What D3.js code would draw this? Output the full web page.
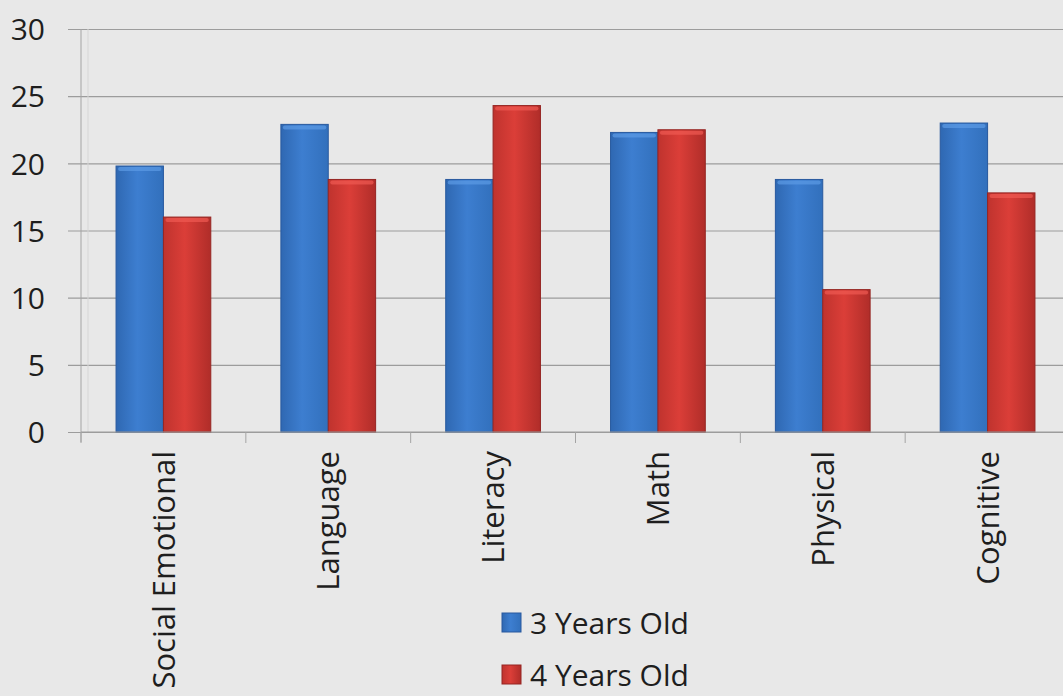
<!DOCTYPE html>
<html>
<head>
<meta charset="utf-8">
<script src="https://cdn.jsdelivr.net/npm/d3@7"></script>
<style>
  html, body { margin: 0; padding: 0; background: #e8e8e8; }
  svg { display: block; font-family: "Open Sans", sans-serif; }
</style>
</head>
<body>
<svg id="chart" width="1063" height="696"></svg>
<script>
var categories = ["Social Emotional", "Language", "Literacy", "Math", "Physical", "Cognitive"];
var seriesNames = ["3 Years Old", "4 Years Old"];
var threeYears = [19.8, 22.9, 18.8, 22.3, 18.8, 23.0];
var fourYears  = [16.0, 18.8, 24.3, 22.5, 10.6, 17.8];
var yTicks = [0, 5, 10, 15, 20, 25, 30];

var svg = d3.select("#chart");
var defs = svg.append("defs");

// bar shading, a bit like the office 3d-ish look
function makeGrad(id, c0, c1, c2) {
  var g = defs.append("linearGradient").attr("id", id)
    .attr("x1", "0").attr("x2", "1").attr("y1", "0").attr("y2", "0");
  g.append("stop").attr("offset", "0%").attr("stop-color", c0);
  g.append("stop").attr("offset", "45%").attr("stop-color", c1);
  g.append("stop").attr("offset", "100%").attr("stop-color", c2);
}
makeGrad("gBlue", "#2f68b2", "#3d7ed0", "#3270bc");
makeGrad("gRed", "#bf332e", "#db3e38", "#b02d29");

var colors = { "3 Years Old": "url(#gBlue)", "4 Years Old": "url(#gRed)" };
var capColors = { "3 Years Old": "#5c9be6", "4 Years Old": "#ef5a52" };
var edgeColors = { "3 Years Old": "#28599e", "4 Years Old": "#952522" };

var plotLeft = 81, plotRight = 1070, plotTop = 29, plotBottom = 432;

var x0 = d3.scaleBand().domain(categories).range([plotLeft, plotRight]).padding(0);
var x1 = d3.scaleBand().domain(seriesNames).range([0, x0.bandwidth()])
  .paddingInner(0).paddingOuter(0.74);
var y = d3.scaleLinear().domain([0, 30]).range([plotBottom, plotTop]);

// gridlines + y axis
var yAxis = svg.append("g")
  .attr("transform", "translate(" + plotLeft + ",0)")
  .call(d3.axisLeft(y).tickValues(yTicks).tickSize(-(plotRight - plotLeft)).tickPadding(36))
  .attr("font-family", null);
yAxis.select(".domain").remove();
yAxis.selectAll(".tick line").attr("stroke", "#9c9c9c").attr("stroke-width", 1.2)
  .attr("x1", -13);
yAxis.selectAll(".tick text").attr("fill", "#1e1e1e").style("font-size", "30px")
  .attr("dy", "0.36em");

// y axis line
svg.append("line")
  .attr("x1", plotLeft).attr("x2", plotLeft)
  .attr("y1", plotTop).attr("y2", plotBottom + 10)
  .attr("stroke", "#a4a4a4").attr("stroke-width", 1);
svg.append("line")
  .attr("x1", plotLeft + 7).attr("x2", plotLeft + 7)
  .attr("y1", plotTop).attr("y2", plotBottom)
  .attr("stroke", "#d6d6d6").attr("stroke-width", 1);

// bars
var rows = categories.map(function(c, i) {
  return { cat: c, vals: [
    { s: seriesNames[0], v: threeYears[i] },
    { s: seriesNames[1], v: fourYears[i] }
  ] };
});

var groups = svg.append("g").selectAll("g").data(rows).join("g")
  .attr("transform", function(d) { return "translate(" + x0(d.cat) + ",0)"; });

groups.selectAll("rect.bar").data(function(d) { return d.vals; }).join("rect")
  .attr("class", "bar")
  .attr("x", function(d) { return x1(d.s); })
  .attr("y", function(d) { return y(d.v); })
  .attr("width", x1.bandwidth())
  .attr("height", function(d) { return y(0) - y(d.v); })
  .attr("fill", function(d) { return colors[d.s]; })
  .attr("stroke", function(d) { return edgeColors[d.s]; })
  .attr("stroke-width", 1);

groups.selectAll("rect.cap").data(function(d) { return d.vals; }).join("rect")
  .attr("class", "cap")
  .attr("x", function(d) { return x1(d.s) + 2; })
  .attr("y", function(d) { return y(d.v) + 1; })
  .attr("width", x1.bandwidth() - 4)
  .attr("height", 4)
  .attr("rx", 2)
  .attr("fill", function(d) { return capColors[d.s]; })
  .attr("opacity", 0.7);

// x axis
var xAxis = svg.append("g")
  .attr("transform", "translate(0," + plotBottom + ")");
xAxis.append("line")
  .attr("x1", plotLeft).attr("x2", plotRight)
  .attr("stroke", "#9c9c9c").attr("stroke-width", 1.2);
xAxis.selectAll("line.tk").data(categories).join("line")
  .attr("class", "tk")
  .attr("x1", function(d) { return x0(d); })
  .attr("x2", function(d) { return x0(d); })
  .attr("y1", 0).attr("y2", 11)
  .attr("stroke", "#a4a4a4");

xAxis.selectAll("text").data(categories).join("text")
  .attr("transform", function(d) {
    return "translate(" + (x0(d) + x0.bandwidth() / 2) + ",19) rotate(-90)";
  })
  .attr("text-anchor", "end")
  .attr("dy", "0.36em")
  .attr("fill", "#1e1e1e")
  .style("font-size", "31px")
  .text(function(d) { return d; });

// legend
var legend = svg.append("g").attr("transform", "translate(502,613)");
var legendItems = legend.selectAll("g").data(seriesNames).join("g")
  .attr("transform", function(d, i) { return "translate(0," + (i * 52) + ")"; });
legendItems.append("rect")
  .attr("width", 19).attr("height", 19)
  .attr("fill", function(d) { return colors[d]; })
  .attr("stroke", function(d) { return edgeColors[d]; });
legendItems.append("text")
  .attr("x", 28).attr("y", 10)
  .attr("dy", "0.36em")
  .attr("fill", "#1e1e1e")
  .style("font-size", "30px")
  .text(function(d) { return d; });
</script>
</body>
</html>
